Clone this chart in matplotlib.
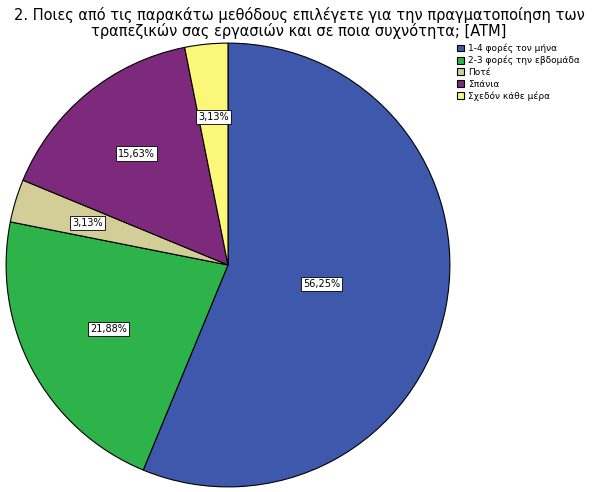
import matplotlib
matplotlib.use("Agg")
import matplotlib.pyplot as plt
import numpy as np

categories = ["1-4 φορές τον μήνα", "2-3 φορές την εβδομάδα", "Ποτέ", "Σπάνια", "Σχεδόν κάθε μέρα"]
values = [56.25, 21.88, 3.13, 15.63, 3.13]
labels = ["56,25%", "21,88%", "3,13%", "15,63%", "3,13%"]
colors = ["#3e58ac", "#2db34a", "#d3ce97", "#7d2a7d", "#fbf778"]
label_r = [0.43, 0.61, 0.66, 0.65, 0.67]

fig = plt.figure(figsize=(5.98, 4.92), dpi=100)
fig.patch.set_facecolor("white")
ax = fig.add_axes([5/598, 4/492, 446/598, 446/492])
wedges, _ = ax.pie(values, colors=colors, startangle=90, counterclock=False,
                   wedgeprops=dict(edgecolor="black", linewidth=0.8))
for w, lab, r in zip(wedges, labels, label_r):
    ang = np.deg2rad((w.theta1 + w.theta2) / 2)
    ax.text(r*np.cos(ang), r*np.sin(ang), lab, ha="center", va="center", fontsize=7,
            bbox=dict(facecolor="white", edgecolor="black", linewidth=0.6, pad=1.5))
ax.set_xlim(-1.005, 1.005)
ax.set_ylim(-1.005, 1.005)
ax.set_aspect("equal")

fig.text(0.5, 0.985, "2. Ποιες από τις παρακάτω μεθόδους επιλέγετε για την πραγματοποίηση των\nτραπεζικών σας εργασιών και σε ποια συχνότητα; [ATM]",
         ha="center", va="top", fontsize=10.5, linespacing=1.0, fontweight="medium")
fig.legend(wedges, categories, loc="upper left", bbox_to_anchor=(453/598, 1-40/492),
           fontsize=6.5, frameon=False, handlelength=0.8, handleheight=0.8,
           borderaxespad=0, labelspacing=0.3, handletextpad=0.5)
fig.savefig("out.png", dpi=100)
